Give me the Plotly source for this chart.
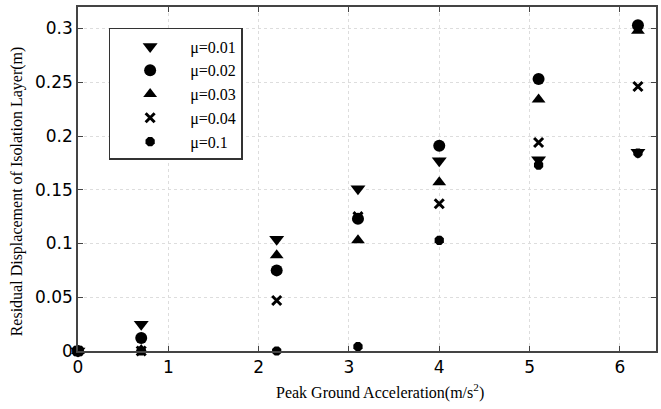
import plotly.graph_objects as go

pga = [0, 0.7, 2.2, 3.1, 4.0, 5.1, 6.2]
mu_labels = ["μ=0.01", "μ=0.02", "μ=0.03", "μ=0.04", "μ=0.1"]
disp_001 = [0.0, 0.025, 0.104, 0.151, 0.177, 0.178, 0.185]
disp_002 = [0.0, 0.012, 0.075, 0.123, 0.191, 0.253, 0.303]
disp_003 = [0.0, 0.001, 0.089, 0.103, 0.157, 0.234, 0.298]
disp_004 = [0.0, 0.0, 0.047, 0.125, 0.137, 0.194, 0.246]
disp_01 = [0.0, 0.0, 0.0, 0.004, 0.103, 0.173, 0.184]
series = [disp_001, disp_002, disp_003, disp_004, disp_01]
symbols = ["triangle-down", "circle", "triangle-up", "x-thin", "octagon"]
sizes = [13, 12, 12, 9, 10]

fig = go.Figure()
for lab, ys, sym, sz in zip(mu_labels, series, symbols, sizes):
    mk = dict(symbol=sym, size=sz, color="black")
    if sym == "x-thin":
        mk["line"] = dict(width=3, color="black")
    fig.add_trace(go.Scatter(x=pga, y=ys, mode="markers", name=lab, marker=mk,
                             cliponaxis=False))

axis_common = dict(
    showline=True, linecolor="#444", linewidth=1.5, mirror="ticks",
    ticks="inside", ticklen=5, tickcolor="#444",
    showgrid=True, gridcolor="#ddd", griddash="dot", gridwidth=1,
    zeroline=False,
    tickfont=dict(family="DejaVu Sans", size=17, color="black"),
)
fig.update_xaxes(range=[0, 6.4], dtick=1, **axis_common)
fig.update_yaxes(range=[0, 0.32], dtick=0.05, tickformat="~g", **axis_common)

fig.add_annotation(text="Peak Ground Acceleration(m/s<sup>2</sup>)", xref="paper", yref="paper",
                   x=0.522, y=-0.118, xanchor="center", yanchor="middle", showarrow=False,
                   font=dict(family="Liberation Serif, Times New Roman", size=16, color="black"))
fig.add_annotation(text="Residual Displacement of Isolation Layer(m)", xref="paper", yref="paper",
                   x=-0.105, y=0.465, xanchor="center", yanchor="middle", showarrow=False, textangle=-90,
                   font=dict(family="Liberation Serif, Times New Roman", size=16, color="black"))

fig.update_layout(
    width=661, height=409,
    margin=dict(l=78, r=3, t=7, b=58),
    plot_bgcolor="white", paper_bgcolor="white",
    showlegend=True,
    legend=dict(x=0.053, y=0.939, xanchor="left", yanchor="top",
                bgcolor="white", bordercolor="#333", borderwidth=1.5,
                font=dict(family="Liberation Serif, Times New Roman", size=16, color="black"),
                itemwidth=70),
)
fig.write_html("out.html")
